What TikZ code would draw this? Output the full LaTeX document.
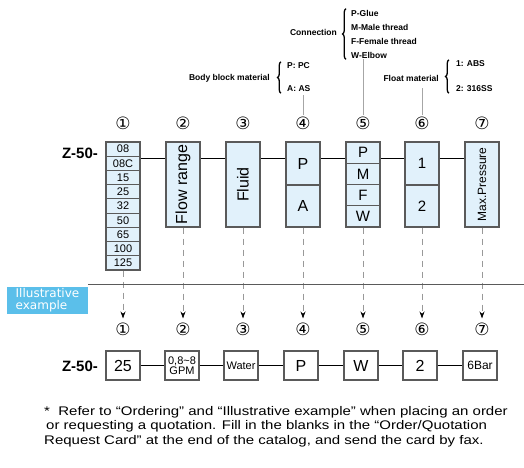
\documentclass[tikz,border=0pt]{standalone}
\usepackage{fontspec}
\usepackage{graphicx}
\setmainfont{Liberation Sans}
\newfontfamily\symfont{DejaVu Sans}
\newfontfamily\tagfont{DejaVu Sans}
\newfontfamily\widefont[FakeStretch=1.2]{Liberation Sans}
\usetikzlibrary{arrows.meta,positioning,decorations.pathreplacing}
\definecolor{cellblue}{HTML}{E1F1FB}
\definecolor{framegray}{HTML}{5A5A5A}
\definecolor{tagblue}{HTML}{5BBFEA}
\newcommand{\fs}[1]{\fontsize{#1}{#1}\selectfont}

\begin{document}
\begin{tikzpicture}[x=1pt, y=-1pt,
  cell/.style={draw=framegray, line width=1.2pt, fill=cellblue,
    minimum width=34pt, inner sep=0pt, font=\fs{11}},
  pick/.style={draw=framegray, line width=1.2pt, fill=white,
    minimum width=34pt, minimum height=29pt, inner sep=0pt, font=\fs{16}},
  num/.style={font=\symfont\fs{17}, inner sep=1pt},
  note/.style={font=\bfseries\fs{8.5}, inner sep=1pt},
  brace/.style={decorate, decoration={brace, amplitude=3.5pt}, line width=1.3pt},
  link/.style={line width=1.4pt},
  lead/.style={draw=gray!70, line width=0.8pt},
  arrow/.style={gray!80, line width=0.8pt, dash pattern=on 6pt off 5pt,
    shorten >=3pt, -{Stealth[length=7pt, width=5pt, color=black]}}
]
\useasboundingbox (0,0) rectangle (524,467);

% Code heading
\node[font=\bfseries\fs{15}] (za) at (80,153) {Z-50-};

% Column 1: size
\foreach \v [count=\k] in {08,08C,15,25,32,50,65,100,125}
  \node[cell, minimum height=14.22pt] (r\k) at (123,{142+14.22*(\k-0.5)}) {\v};

% Columns 2-3
\node[cell, minimum height=85pt, font=\fs{16}] (flow) at (183,184.5)
  {\rotatebox{90}{Flow range}};
\node[cell, minimum height=85pt, font=\fs{16}] (fluid) at (243,184.5)
  {\rotatebox{90}{Fluid}};

% Column 4: body block
\node[cell, minimum height=43pt, font=\fs{16}] (pP) at (303,163.5) {P};
\node[cell, minimum height=42pt, font=\fs{16}] (pA) at (303,206) {A};

% Column 5: connection
\node[cell, minimum height=21.25pt, font=\fs{15}] (cP) at (363,152.6) {P};
\node[cell, minimum height=21.25pt, font=\fs{15}] (cM) at (363,173.9) {M};
\node[cell, minimum height=21.25pt, font=\fs{15}] (cF) at (363,195.1) {F};
\node[cell, minimum height=21.25pt, font=\fs{15}] (cW) at (363,216.4) {W};

% Column 6: float
\node[cell, minimum height=43pt, font=\fs{15}] (f1) at (422,163.5) {1};
\node[cell, minimum height=42pt, font=\fs{15}] (f2) at (422,206) {2};

% Column 7: pressure
\node[cell, minimum height=85pt, font=\fs{12}] (mp) at (482,184.5)
  {\rotatebox{90}{Max.Pressure}};

% Bus line
\coordinate (bus) at (0,158.5);
\draw[link] (r2.east |- bus) -- (flow.west |- bus);
\draw[link] (flow.east |- bus) -- (fluid.west |- bus);
\draw[link] (fluid.east |- bus) -- (pP.west |- bus);
\draw[link] (pP.east |- bus) -- (cP.west |- bus);
\draw[link] (cP.east |- bus) -- (f1.west |- bus);
\draw[link] (f1.east |- bus) -- (mp.west |- bus);

% Position numbers
\foreach \x/\s [count=\k] in {123/①,183/②,243/③,303/④,363/⑤,422/⑥,482/⑦} {
  \node[num] (n\k) at (\x,123) {\s};
  \node[num] (m\k) at (\x,329) {\s};
}

% Connection options
\node[note, anchor=east] (conn) at (338,32) {Connection};
\node[note, anchor=west] (oP) at (350,13) {P-Glue};
\node[note, anchor=west] (oM) at (350,27) {M-Male thread};
\node[note, anchor=west] (oF) at (350,41) {F-Female thread};
\node[note, anchor=west] (oW) at (350,55) {W-Elbow};
\draw[brace] ([xshift=-4pt]oW.south west) -- ([xshift=-4pt]oP.north west);
\draw[lead] (oW.south -| n5) -- (n5.north);

% Body block options
\node[note, anchor=east] (body) at (271,78) {Body block material};
\node[note, anchor=west] (bP) at (286,66) {P: PC};
\node[note, anchor=west] (bA) at (286,89) {A: AS};
\draw[brace] ([xshift=-5pt]bA.south west) -- ([xshift=-5pt]bP.north west);
\draw[lead] ([yshift=-2pt]bA.south -| n4) -- (n4.north);

% Float options
\node[note, anchor=east] (float) at (440,78) {Float material};
\node[note, anchor=west] (fA) at (455,64) {1: ABS};
\node[note, anchor=west] (fS) at (455,89) {2: 316SS};
\draw[brace] ([xshift=-6pt]fS.south west) -- ([xshift=-6pt]fA.north west);
\draw[lead] ([yshift=-6pt]float.south -| n6) -- (n6.north);

% Dashed guides
\draw[arrow] (r9.south) -- (m1.north);
\draw[arrow] (flow.south) -- (m2.north);
\draw[arrow] (fluid.south) -- (m3.north);
\draw[arrow] (pA.south) -- (m4.north);
\draw[arrow] (cW.south) -- (m5.north);
\draw[arrow] (f2.south) -- (m6.north);
\draw[arrow] (mp.south) -- (m7.north);

% Example tag and rule
\node[fill=tagblue, text=white, minimum width=81pt, minimum height=27pt,
  inner sep=0pt, align=left, font=\tagfont\fontsize{12}{12}\selectfont]
  (tag) at (47.5,300.5) {Illustrative\\example};
\coordinate (edge) at (524,285);
\draw[framegray, line width=0.8pt] ([yshift=2pt]tag.north east)
  -- ([yshift=2pt]tag.north east -| edge);

% Example code
\node[font=\bfseries\fs{15}] (zb) at (80,366) {Z-50-};
\node[pick] (e1) at (123,365.5) {25};
\node[pick, font=\fontsize{11}{9}\selectfont, align=center] (e2) at (182,365.5)
  {0,8\textasciitilde 8\\GPM};
\node[pick, font=\fs{11}] (e3) at (241,365.5) {Water};
\node[pick] (e4) at (301,365.5) {P};
\node[pick] (e5) at (361,365.5) {W};
\node[pick] (e6) at (420,365.5) {2};
\node[pick, font=\fs{12}] (e7) at (480,365.5) {6Bar};
\draw[link] (e1) -- (e2) -- (e3) -- (e4) -- (e5) -- (e6) -- (e7);

% Footnote
\node[anchor=north west, align=left, inner sep=0pt,
  font=\widefont\fontsize{12.5}{14.5}\selectfont] (fn) at (44,406)
  {*\ \ Refer to “Ordering” and “Illustrative example” when placing an order\\
   \hspace{2pt}or requesting a quotation. Fill in the blanks in the “Order/Quotation\\
   Request Card” at the end of the catalog, and send the card by fax.};

\end{tikzpicture}
\end{document}
